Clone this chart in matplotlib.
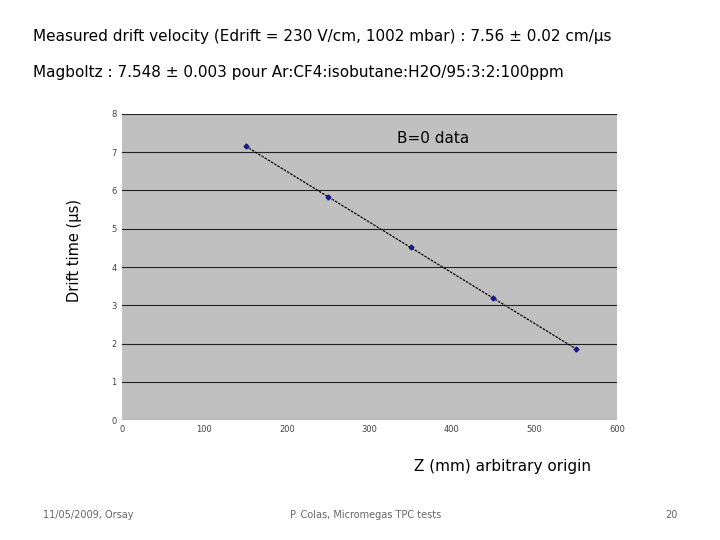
import matplotlib
matplotlib.use("Agg")
import matplotlib.pyplot as plt
import numpy as np

# data
z_mm = [150, 250, 350, 450, 550]
drift_us = [7.16, 5.83, 4.52, 3.19, 1.86]
xticks = [0, 100, 200, 300, 400, 500, 600]
yticks = [0, 1, 2, 3, 4, 5, 6, 7, 8]

fig = plt.figure(figsize=(7.2, 5.4), dpi=100, facecolor="white")
ax = fig.add_axes([0.169, 0.222, 0.688, 0.567])
ax.set_facecolor("#c0c0c0")
ax.set_xlim(0, 600)
ax.set_ylim(0, 8)
ax.set_xticks(xticks)
ax.set_yticks(yticks)
ax.tick_params(labelsize=6, colors="#444444", length=0)
for s in ax.spines.values():
    s.set_visible(False)
ax.grid(axis="y", color="#222222", linewidth=0.8)
ax.set_axisbelow(True)

fit = np.polyfit(z_mm, drift_us, 1)
xs = np.array([z_mm[0], z_mm[-1]])
ax.plot(xs, np.polyval(fit, xs), color="black", lw=0.9, ls=(0, (2, 1)))
ax.plot(z_mm, drift_us, "D", color="#1a1a80", ms=2.5)

ax.text(0.628, 0.92, "B=0 data", transform=ax.transAxes, ha="center",
        va="center", fontsize=11)

fig.text(33/720, 1-37/540, "Measured drift velocity (Edrift = 230 V/cm, 1002 mbar) : 7.56 ± 0.02 cm/µs",
         fontsize=11, va="center")
fig.text(33/720, 1-72/540, "Magboltz : 7.548 ± 0.003 pour Ar:CF4:isobutane:H2O/95:3:2:100ppm",
         fontsize=11, va="center")
fig.text(75/720, 1-250/540, "Drift time (µs)", rotation=90, fontsize=10.5,
         ha="center", va="center")
fig.text(503/720, 1-466/540, "Z (mm) arbitrary origin", fontsize=11,
         ha="center", va="center")

for x, t in [(88, "11/05/2009, Orsay"), (366, "P. Colas, Micromegas TPC tests"), (671, "20")]:
    fig.text(x/720, 1-515/540, t, fontsize=7, color="#666666", ha="center", va="center")

fig.savefig("out.png", dpi=100, facecolor="white")
